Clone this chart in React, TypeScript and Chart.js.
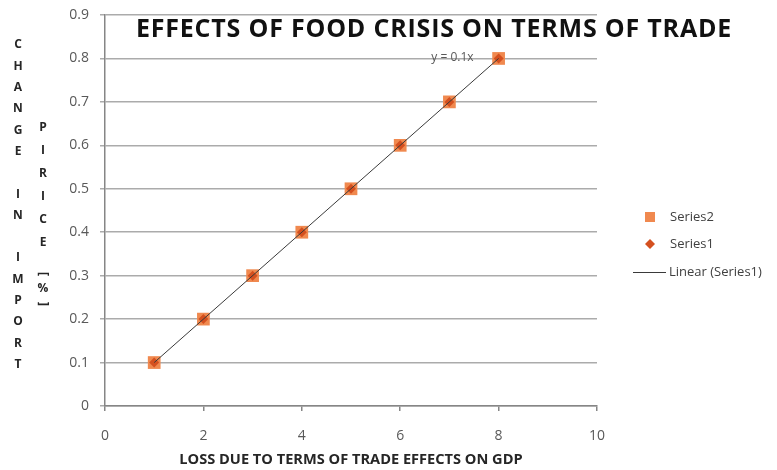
import React, { useEffect, useRef } from "react";
import { Chart, registerables } from "chart.js";

Chart.register(...registerables);

// ---- data ----
const xValues = [1, 2, 3, 4, 5, 6, 7, 8];
const series1Values = [0.1, 0.2, 0.3, 0.4, 0.5, 0.6, 0.7, 0.8];
const series2Values = [0.1, 0.2, 0.3, 0.4, 0.5, 0.6, 0.7, 0.8];
const trendX = [1, 8];
const trendY = [0.1, 0.8];
const xTickValues = [0, 2, 4, 6, 8, 10];
const yTickValues = [0, 0.1, 0.2, 0.3, 0.4, 0.5, 0.6, 0.7, 0.8, 0.9];

const chartTitle = "EFFECTS OF FOOD CRISIS ON TERMS OF TRADE";
const xAxisTitle = "LOSS DUE TO TERMS OF TRADE EFFECTS ON GDP";
const yTitleColumn1 = "CHANGE IN IMPORT";
const yTitleColumn2 = "PIRICE[%]";
const series1Label = "Series1";
const series2Label = "Series2";
const trendLabel = "Linear (Series1)";
const trendEquation = "y = 0.1x";

// ---- styles ----
const SQUARE_COLOR = "#F0894F";
const DIAMOND_COLOR = "#D4501F";
const TREND_COLOR = "#3a3a3a";
const GRID_COLOR = "#ababab";
const AXIS_COLOR = "#868686";
const TICK_COLOR = "#595959";
const FONT = "'Open Sans', 'DejaVu Sans', sans-serif";

const textPlugin = {
  id: "customTexts",
  afterDraw(chart: any) {
    const ctx = chart.ctx as CanvasRenderingContext2D;
    const xs = chart.scales.x;
    const ys = chart.scales.y;
    ctx.save();

    // chart title
    ctx.font = `bold 25px ${FONT}`;
    (ctx as any).letterSpacing = "0.8px";
    ctx.fillStyle = "#111111";
    ctx.textAlign = "center";
    ctx.textBaseline = "middle";
    ctx.fillText(chartTitle, 434, 30);
    (ctx as any).letterSpacing = "0px";

    // trendline equation
    const lastX = xs.getPixelForValue(trendX[trendX.length - 1]);
    const lastY = ys.getPixelForValue(trendY[trendY.length - 1]);
    ctx.font = `12px ${FONT}`;
    ctx.fillStyle = "#595959";
    ctx.textAlign = "right";
    ctx.fillText(trendEquation, lastX - 25, lastY - 1);

    // stacked y-axis titles
    ctx.font = `bold 12px ${FONT}`;
    ctx.fillStyle = "#262626";
    ctx.textAlign = "center";
    const c1 = yTitleColumn1.split("");
    c1.forEach((ch, i) => {
      if (ch === " ") return;
      ctx.fillText(ch, 18, 45 + i * 21.3);
    });
    const c2 = yTitleColumn2.split("");
    const c2y = [128, 151, 174, 197, 220, 243, 274, 289, 304];
    c2.forEach((ch, i) => {
      if (ch === "[" || ch === "]") {
        ctx.save();
        ctx.translate(43, c2y[i]);
        ctx.rotate(Math.PI / 2);
        ctx.fillText(ch, 0, 0);
        ctx.restore();
      } else {
        ctx.fillText(ch, 43, c2y[i]);
      }
    });

    // legend
    const lx = 650;
    const ly = [217, 244, 272];
    ctx.fillStyle = SQUARE_COLOR;
    ctx.fillRect(lx - 5, ly[0] - 5, 10, 10);
    ctx.fillStyle = DIAMOND_COLOR;
    ctx.beginPath();
    ctx.moveTo(lx, ly[1] - 5);
    ctx.lineTo(lx + 5, ly[1]);
    ctx.lineTo(lx, ly[1] + 5);
    ctx.lineTo(lx - 5, ly[1]);
    ctx.closePath();
    ctx.fill();
    ctx.strokeStyle = TREND_COLOR;
    ctx.lineWidth = 1;
    ctx.beginPath();
    ctx.moveTo(633, ly[2] + 0.5);
    ctx.lineTo(666, ly[2] + 0.5);
    ctx.stroke();
    ctx.font = `13px ${FONT}`;
    ctx.fillStyle = "#404040";
    ctx.textAlign = "left";
    ctx.fillText(series2Label, 670, ly[0]);
    ctx.fillText(series1Label, 670, ly[1]);
    ctx.fillText(trendLabel, 669, ly[2]);

    ctx.restore();
  },
};

export default function App() {
  const canvasRef = useRef<HTMLCanvasElement | null>(null);

  useEffect(() => {
    if (!canvasRef.current) return;
    const chart = new Chart(canvasRef.current, {
      type: "scatter",
      data: {
        datasets: [
          {
            label: trendLabel,
            data: trendX.map((x, i) => ({ x, y: trendY[i] })),
            showLine: true,
            borderColor: TREND_COLOR,
            borderWidth: 1,
            pointRadius: 0,
            fill: false,
          },
          {
            label: series1Label,
            data: xValues.map((x, i) => ({ x, y: series1Values[i] })),
            pointStyle: "rectRot",
            pointRadius: 5,
            backgroundColor: DIAMOND_COLOR,
            borderColor: DIAMOND_COLOR,
            borderWidth: 0,
          },
          {
            label: series2Label,
            data: xValues.map((x, i) => ({ x, y: series2Values[i] })),
            pointStyle: "rect",
            pointRadius: 9,
            backgroundColor: SQUARE_COLOR,
            borderColor: SQUARE_COLOR,
            borderWidth: 0,
          },
        ],
      },
      options: {
        animation: false,
        responsive: true,
        maintainAspectRatio: false,
        layout: { padding: { left: 0, right: 180, top: 15, bottom: 0 } },
        plugins: {
          legend: { display: false },
          title: { display: false },
          tooltip: { enabled: false },
        },
        scales: {
          x: {
            type: "linear",
            min: 0,
            max: 10,
            afterBuildTicks: (s: any) => {
              s.ticks = xTickValues.map((v) => ({ value: v }));
            },
            afterFit: (s: any) => {
              s.height = 64;
            },
            ticks: {
              color: TICK_COLOR,
              font: { family: FONT, size: 14 },
              padding: 17,
            },
            grid: {
              display: true,
              drawOnChartArea: false,
              drawTicks: true,
              tickLength: 5,
              color: AXIS_COLOR,
              lineWidth: 1.5,
            },
            border: { display: true, color: AXIS_COLOR, width: 1.5 },
            title: {
              display: true,
              text: xAxisTitle,
              color: "#262626",
              font: { family: FONT, size: 14.6, weight: "bold" },
              padding: { top: 0, bottom: 1 },
            },
          },
          y: {
            type: "linear",
            min: 0,
            max: 0.9,
            afterBuildTicks: (s: any) => {
              s.ticks = yTickValues.map((v) => ({ value: v }));
            },
            afterFit: (s: any) => {
              s.width = 105;
              s.paddingTop = 0;
            },
            ticks: {
              color: TICK_COLOR,
              font: { family: FONT, size: 14 },
              padding: 11,
              callback: (v: any) => String(Math.round(Number(v) * 10) / 10),
            },
            grid: {
              color: GRID_COLOR,
              lineWidth: 1.5,
              drawTicks: true,
              tickLength: 5,
            },
            border: { display: true, color: AXIS_COLOR, width: 1.5 },
          },
        },
      },
      plugins: [textPlugin],
    });
    return () => chart.destroy();
  }, []);

  return (
    <div
      style={{
        position: "fixed",
        left: 0,
        top: 0,
        width: 777,
        height: 470,
        background: "#ffffff",
      }}
    >
      <canvas ref={canvasRef} />
    </div>
  );
}
